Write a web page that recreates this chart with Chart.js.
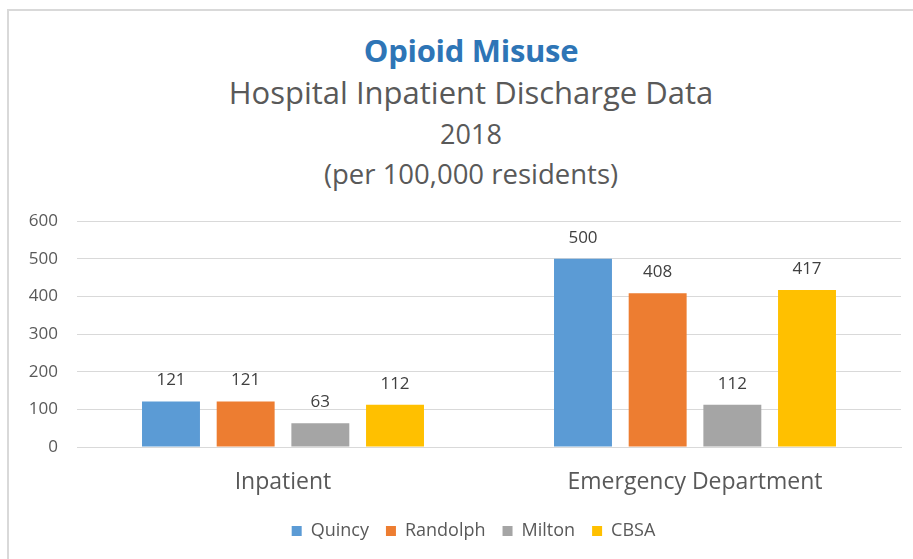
<!DOCTYPE html>
<html lang="en">
<head>
    <meta charset="UTF-8">
    <title>Opioid Misuse</title>
    <script src="https://cdn.jsdelivr.net/npm/chart.js"></script>
    <style>
        body {
            margin: 0;
            padding: 0;
            background-color: #fff;
            font-family: 'Open Sans', sans-serif;
            overflow: hidden;
        }

        .box {
            position: absolute;
            left: 7px;
            top: 9px;
            width: 1000px;
            height: 600px;
            border-left: 2px solid #d9d9d9;
            border-top: 2px solid #d9d9d9;
        }

        .titles {
            position: absolute;
            left: 0;
            top: 0;
            width: 924px;
            text-align: center;
            color: #595959;
        }

        .titles div {
            position: absolute;
            width: 100%;
            white-space: nowrap;
            line-height: 1;
        }

        .t1 { top: 24px; font-size: 31px; font-weight: bold; color: #2E75B6; letter-spacing: -0.3px; }
        .t2 { top: 66px; font-size: 31px; }
        .t3 { top: 109px; font-size: 27px; }
        .t4 { top: 149px; font-size: 27.5px; }

        #wrap {
            position: absolute;
            left: 1px;
            top: 1px;
            width: 905px;
            height: 549px;
        }
    </style>
</head>
<body>
    <div class="box">
        <div class="titles">
            <div class="t1">Opioid Misuse</div>
            <div class="t2">Hospital Inpatient Discharge Data</div>
            <div class="t3">2018</div>
            <div class="t4">(per 100,000 residents)</div>
        </div>
        <div id="wrap"><canvas id="chart"></canvas></div>
    </div>

    <script>
        const categories = ['Inpatient', 'Emergency Department'];
        const seriesNames = ['Quincy', 'Randolph', 'Milton', 'CBSA'];
        const quincy = [121, 500];
        const randolph = [121, 408];
        const milton = [63, 112];
        const cbsa = [112, 417];
        const yTicks = [0, 100, 200, 300, 400, 500, 600];

        const colors = ['#5B9BD5', '#ED7D31', '#A5A5A5', '#FFC000'];
        const values = [quincy, randolph, milton, cbsa];

        // value labels on top of each bar
        const barLabels = {
            id: 'barLabels',
            afterDatasetsDraw(chart) {
                const ctx = chart.ctx;
                ctx.save();
                ctx.font = '17px "Open Sans"';
                ctx.fillStyle = '#404040';
                ctx.textAlign = 'center';
                ctx.textBaseline = 'middle';
                chart.data.datasets.forEach((ds, i) => {
                    chart.getDatasetMeta(i).data.forEach((bar, j) => {
                        ctx.fillText(ds.data[j], bar.x, bar.y - 21);
                    });
                });
                ctx.restore();
            }
        };

        // nudge the legend so it centres on the whole chart box
        const legendShift = {
            id: 'legendShift',
            afterLayout(chart) {
                if (chart.legend) chart.legend.left = 36;
            }
        };

        const ctx = document.getElementById('chart').getContext('2d');

        new Chart(ctx, {
            type: 'bar',
            data: {
                labels: categories,
                datasets: seriesNames.map((name, i) => ({
                    label: name,
                    data: values[i],
                    backgroundColor: colors[i],
                    categoryPercentage: 0.725,
                    barPercentage: 0.776
                }))
            },
            options: {
                responsive: true,
                maintainAspectRatio: false,
                animation: false,
                layout: {
                    padding: { top: 209, left: 0, right: 14, bottom: 11 }
                },
                plugins: {
                    legend: {
                        position: 'bottom',
                        labels: {
                            color: '#595959',
                            font: { family: 'Open Sans', size: 18 },
                            boxWidth: 10,
                            boxHeight: 10,
                            padding: 17
                        }
                    },
                    tooltip: { enabled: false }
                },
                scales: {
                    x: {
                        grid: { display: false },
                        border: { color: '#d9d9d9', width: 1 },
                        ticks: {
                            color: '#595959',
                            font: { family: 'Open Sans', size: 23 },
                            padding: 14
                        },
                        afterFit(axis) {
                            axis.height = 58;
                        }
                    },
                    y: {
                        min: 0,
                        max: 600,
                        afterBuildTicks(axis) {
                            axis.ticks = yTicks.map(v => ({ value: v }));
                        },
                        afterFit(axis) {
                            axis.width = 67;
                        },
                        border: { display: false },
                        grid: { color: '#d9d9d9', lineWidth: 1, drawTicks: false },
                        ticks: {
                            color: '#595959',
                            font: { family: 'Open Sans', size: 17 },
                            padding: 19
                        }
                    }
                }
            },
            plugins: [barLabels, legendShift]
        });
    </script>
</body>
</html>
